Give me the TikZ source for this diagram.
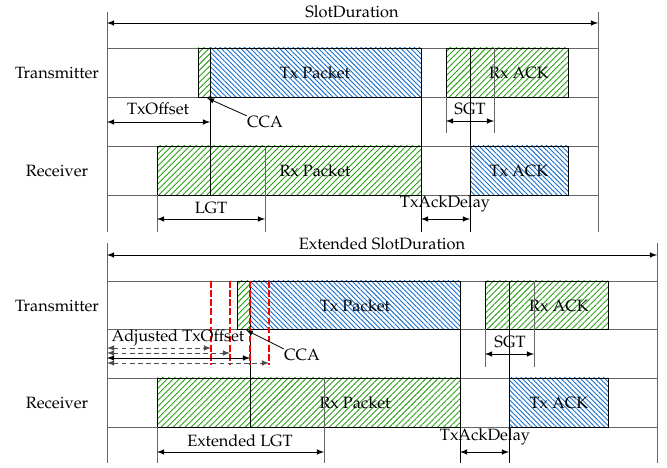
\documentclass[tikz,border=0pt]{standalone}
\usepackage[T1]{fontenc}
\usepackage{mathpazo}
\usetikzlibrary{patterns.meta}

\definecolor{hatchgreen}{RGB}{40,160,20}
\definecolor{hatchblue}{RGB}{20,110,205}

\tikzset{
    lane/.style={black!60, line width=0.6pt},
    edge/.style={black, line width=0.6pt},
    guide/.style={black!60, line width=0.6pt},
    rxbox/.style={draw=black, line width=0.6pt, pattern={Lines[angle=45,distance=2.6pt,line width=0.55pt]}, pattern color=hatchgreen},
    txbox/.style={draw=black, line width=0.6pt, pattern={Lines[angle=-45,distance=2.1pt,line width=0.55pt]}, pattern color=hatchblue},
    dim/.style={<->, black, line width=0.5pt},
    trial/.style={<->, black!70, line width=0.5pt, dash pattern=on 3pt off 2pt},
    redmark/.style={red, line width=1.7pt, dash pattern=on 4pt off 1.6pt},
    lbl/.style={inner sep=0pt}
}

\begin{document}
\begin{tikzpicture}[x=0.0215cm, y=-0.0215cm, >=latex]
    \useasboundingbox (0,0) rectangle (667,468);

    % ---------------- Normal slot ----------------
    % slot borders
    \draw[guide] (107,12) -- (107,232);
    \draw[guide] (598,12) -- (598,232);
    \draw[dim] (107,23) -- (598,23);
    \node[lbl] (slot) at (352,12) {SlotDuration};

    % lanes
    \draw[lane] (107,48) -- (598,48);
    \draw[lane] (107,97) -- (598,97);
    \draw[lane] (107,146) -- (598,146);
    \draw[lane] (107,195) -- (598,195);
    \node[lbl] (tx1) at (57,73) {Transmitter};
    \node[lbl] (rx1) at (57,171) {Receiver};

    % transmitter frames
    \draw[rxbox] (198,48) rectangle (210,97);
    \draw[txbox] (210,48) rectangle (421,97);
    \node[lbl] (txpkt1) at (315,73) {Tx Packet};
    \draw[rxbox] (446,48) rectangle (568,97);
    \node[lbl] (rxack1) at (519,73) {Rx ACK};

    % receiver frames
    \draw[rxbox] (157,146) rectangle (421,195);
    \node[lbl] (rxpkt1) at (315,171) {Rx Packet};
    \draw[txbox] (470,146) rectangle (568,195);
    \node[lbl] (txack1) at (519,171) {Tx ACK};

    % time markers
    \draw[edge] (210,48) -- (210,195);
    \draw[edge] (421,97) -- (421,232);
    \draw[edge] (470,48) -- (470,232);
    \draw[guide] (265,146) -- (265,232);
    \draw[guide] (157,195) -- (157,232);
    \draw[guide] (446,97) -- (446,133);
    \draw[guide] (494,48) -- (494,133);

    % dimensions
    \draw[dim] (107,122) -- (210,122);
    \node[lbl] (off1) at (158,109) {TxOffset};
    \draw[dim] (446,121) -- (494,121);
    \node[lbl] (sgt1) at (470,109) {SGT};
    \draw[dim] (157,219) -- (265,219);
    \node[lbl] (lgt1) at (211,208) {LGT};
    \draw[dim] (421,219) -- (470,219);
    \node[lbl] (ackd1) at (445,204) {TxAckDelay};

    % CCA pointer
    \node[lbl] (cca1) at (265,122) {CCA};
    \coordinate (cca1tip) at (207,98);
    \draw[->, line width=0.5pt] (cca1.north west) -- (cca1tip);

    % ---------------- Extended slot ----------------
    % slot borders
    \draw[guide] (107,243) -- (107,463);
    \draw[guide] (657,243) -- (657,463);
    \draw[dim] (107,255) -- (657,255);
    \node[lbl] (slot2) at (382,244) {Extended SlotDuration};

    % lanes
    \draw[lane] (107,281) -- (657,281);
    \draw[lane] (107,329) -- (657,329);
    \draw[lane] (107,378) -- (657,378);
    \draw[lane] (107,427) -- (657,427);
    \node[lbl] (tx2) at (57,306) {Transmitter};
    \node[lbl] (rx2) at (57,403) {Receiver};

    % transmitter frames
    \draw[rxbox] (237,281) rectangle (250,329);
    \draw[txbox] (250,281) rectangle (460,329);
    \node[lbl] (txpkt2) at (355,306) {Tx Packet};
    \draw[rxbox] (485,281) rectangle (608,329);
    \node[lbl] (rxack2) at (559,306) {Rx ACK};

    % receiver frames
    \draw[rxbox] (157,378) rectangle (460,427);
    \node[lbl] (rxpkt2) at (355,403) {Rx Packet};
    \draw[txbox] (509,378) rectangle (608,427);
    \node[lbl] (txack2) at (559,403) {Tx ACK};

    % time markers
    \draw[edge] (250,281) -- (250,427);
    \draw[edge] (460,329) -- (460,463);
    \draw[edge] (509,281) -- (509,463);
    \draw[guide] (324,378) -- (324,463);
    \draw[guide] (157,427) -- (157,463);
    \draw[guide] (485,329) -- (485,367);
    \draw[guide] (534,281) -- (534,367);

    % candidate offsets (red)
    \draw[redmark] (211,281) -- (211,365);
    \draw[redmark] (230,281) -- (230,365);
    \draw[redmark] (250,281) -- (250,365);
    \draw[redmark] (269,281) -- (269,365);

    % adjusted offsets
    \node[lbl] (off2) at (178,338) {Adjusted TxOffset};
    \draw[trial] (107,348) -- (211,348);
    \draw[trial] (107,353) -- (230,353);
    \draw[dim] (107,358) -- (250,358);
    \draw[trial] (107,363) -- (269,363);

    % dimensions
    \draw[dim] (485,354) -- (534,354);
    \node[lbl] (sgt2) at (510,342) {SGT};
    \draw[dim] (157,452) -- (324,452);
    \node[lbl] (lgt2) at (240,441) {Extended LGT};
    \draw[dim] (460,452) -- (509,452);
    \node[lbl] (ackd2) at (485,437) {TxAckDelay};

    % CCA pointer
    \node[lbl] (cca2) at (302,355) {CCA};
    \coordinate (cca2tip) at (246,330);
    \draw[->, line width=0.5pt] (cca2.north west) -- (cca2tip);
\end{tikzpicture}
\end{document}
